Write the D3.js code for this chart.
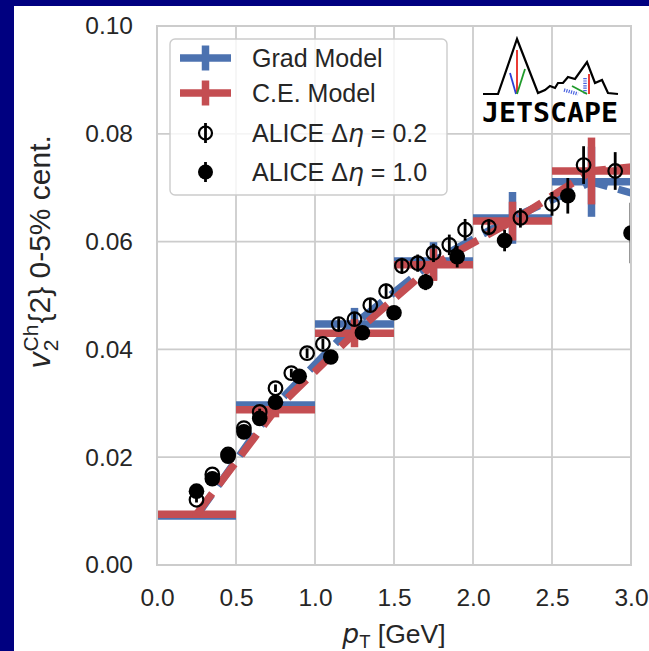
<!DOCTYPE html>
<html>
<head>
<meta charset="utf-8">
<script src="https://cdn.jsdelivr.net/npm/d3@7"></script>
<style>
  body { margin: 0; background: #000080; }
  svg { display: block; }
  text { font-family: "Liberation Sans", Arial, sans-serif; fill: #262626; }
</style>
</head>
<body>
<svg id="chart" width="649" height="651"></svg>
<script>
// Hydro model bins (centre, half-width) and v2 values with uncertainties
const binCenters = [0.25, 0.75, 1.25, 1.75, 2.25, 2.75, 3.25];
const binHalfWidth = 0.25;
const gradV   = [0.0091, 0.0297, 0.0447, 0.0564, 0.0644, 0.0711, 0.0670];
const gradErr = [0.0004, 0.0010, 0.0030, 0.0035, 0.0048, 0.0065, 0.0060];
const ceV     = [0.0094, 0.0288, 0.0430, 0.0557, 0.0638, 0.0731, 0.0746];
const ceErr   = [0.0004, 0.0014, 0.0026, 0.0030, 0.0036, 0.0062, 0.0060];

// ALICE measurements, eta gap 0.2
const alice02Pt  = [0.25, 0.35, 0.45, 0.55, 0.65, 0.75, 0.85, 0.95, 1.05, 1.15, 1.25, 1.35,
                    1.45, 1.55, 1.65, 1.75, 1.85, 1.95, 2.1, 2.3, 2.5, 2.7, 2.9];
const alice02V   = [0.0121, 0.0168, 0.0205, 0.0254, 0.0284, 0.0328, 0.0356, 0.0393, 0.0410,
                    0.0447, 0.0456, 0.0482, 0.0508, 0.0555, 0.0560, 0.0579, 0.0594, 0.0622,
                    0.0627, 0.0644, 0.0670, 0.0742, 0.0731];
const alice02Err = [0.0005, 0.0005, 0.0005, 0.0005, 0.0006, 0.0007, 0.0008, 0.0009, 0.0010,
                    0.0011, 0.0012, 0.0013, 0.0014, 0.0015, 0.0016, 0.0017, 0.0019, 0.0020,
                    0.0015, 0.0018, 0.0022, 0.0035, 0.0035];

// ALICE measurements, eta gap 1.0
const alice10Pt  = [0.25, 0.35, 0.45, 0.55, 0.65, 0.75, 0.9, 1.1, 1.3, 1.5, 1.7, 1.9, 2.2, 2.6, 3.0];
const alice10V   = [0.0137, 0.0160, 0.0202, 0.0247, 0.0272, 0.0302, 0.0350, 0.0386, 0.0431,
                    0.0468, 0.0525, 0.0572, 0.0602, 0.0685, 0.0616];
const alice10Err = [0.0005, 0.0005, 0.0005, 0.0005, 0.0006, 0.0006, 0.0007, 0.0008, 0.0010,
                    0.0012, 0.0015, 0.0020, 0.0020, 0.0033, 0.0056];

const xTicks = [0.0, 0.5, 1.0, 1.5, 2.0, 2.5, 3.0];
const yTicks = [0.00, 0.02, 0.04, 0.06, 0.08, 0.10];

const BLUE = "#4c72b0", RED = "#c44e52", GRID = "#cccccc", INK = "#262626";

const svg = d3.select("#chart");
svg.append("rect").attr("x", 14).attr("y", 6).attr("width", 635).attr("height", 645).attr("fill", "#ffffff");

const x = d3.scaleLinear().domain([0, 3]).range([157, 631]);
const y = d3.scaleLinear().domain([0, 0.1]).range([565, 26]);

// grid
const grid = svg.append("g");
grid.selectAll(".gx").data(xTicks).join("line")
  .attr("x1", d => x(d)).attr("x2", d => x(d)).attr("y1", y(0)).attr("y2", y(0.1))
  .attr("stroke", GRID).attr("stroke-width", 1.8);
grid.selectAll(".gy").data(yTicks).join("line")
  .attr("x1", x(0)).attr("x2", x(3)).attr("y1", d => y(d)).attr("y2", d => y(d))
  .attr("stroke", GRID).attr("stroke-width", 1.8);

// axes (labels only, seaborn whitegrid style)
const xAxis = svg.append("g").attr("transform", `translate(0,${y(0)})`)
  .call(d3.axisBottom(x).tickValues(xTicks).tickFormat(d3.format(".1f")).tickSize(0).tickPadding(24));
const yAxis = svg.append("g").attr("transform", `translate(${x(0)},0)`)
  .call(d3.axisLeft(y).tickValues(yTicks).tickFormat(d3.format(".2f")).tickSize(0).tickPadding(24));
[xAxis, yAxis].forEach(a => {
  a.select(".domain").remove();
  a.selectAll("text").attr("font-size", 24.5).attr("fill", INK)
    .style("font-family", '"Liberation Sans", Arial, sans-serif');
});

// clip for data
svg.append("clipPath").attr("id", "plotclip").append("rect")
  .attr("x", x(0)).attr("y", y(0.1)).attr("width", x(3) - x(0)).attr("height", y(0) - y(0.1));
const plot = svg.append("g").attr("clip-path", "url(#plotclip)");

function drawModel(vals, errs, color) {
  const g = plot.append("g");
  const rows = binCenters.map((c, i) => ({ c, v: vals[i], e: errs[i] }));
  g.selectAll(".h").data(rows).join("line")
    .attr("x1", d => x(d.c - binHalfWidth)).attr("x2", d => x(d.c + binHalfWidth))
    .attr("y1", d => y(d.v)).attr("y2", d => y(d.v))
    .attr("stroke", color).attr("stroke-width", 7.5);
  g.selectAll(".v").data(rows).join("line")
    .attr("x1", d => x(d.c)).attr("x2", d => x(d.c))
    .attr("y1", d => y(d.v - d.e)).attr("y2", d => y(d.v + d.e))
    .attr("stroke", color).attr("stroke-width", 7.5);
  g.append("path").datum(rows)
    .attr("d", d3.line().x(d => x(d.c)).y(d => y(d.v)))
    .attr("fill", "none").attr("stroke", color).attr("stroke-width", 7.5)
    .attr("stroke-dasharray", "26,11");
}
drawModel(gradV, gradErr, BLUE);
drawModel(ceV, ceErr, RED);

function drawData(pts, vals, errs, filled) {
  const g = plot.append("g");
  const rows = pts.map((p, i) => ({ p, v: vals[i], e: errs[i] }));
  g.selectAll("line").data(rows).join("line")
    .attr("x1", d => x(d.p)).attr("x2", d => x(d.p))
    .attr("y1", d => y(d.v - d.e)).attr("y2", d => y(d.v + d.e))
    .attr("stroke", "#000").attr("stroke-width", 2.8);
  g.selectAll("circle").data(rows).join("circle")
    .attr("cx", d => x(d.p)).attr("cy", d => y(d.v))
    .attr("r", filled ? 7.8 : 6.8)
    .attr("fill", filled ? "#000" : "none")
    .attr("stroke", "#000").attr("stroke-width", filled ? 0 : 2.2);
}
drawData(alice02Pt, alice02V, alice02Err, false);
drawData(alice10Pt, alice10V, alice10Err, true);

// frame
svg.append("rect").attr("x", x(0)).attr("y", y(0.1)).attr("width", x(3) - x(0)).attr("height", y(0) - y(0.1))
  .attr("fill", "none").attr("stroke", GRID).attr("stroke-width", 2);

// legend
const legend = svg.append("g");
legend.append("rect").attr("x", 170).attr("y", 39).attr("width", 277).attr("height", 156).attr("rx", 5)
  .attr("fill", "#ffffff").attr("fill-opacity", 0.8).attr("stroke", GRID).attr("stroke-width", 1.4);
const legendRows = [
  { kind: "model", color: BLUE, label: ["Grad Model"] },
  { kind: "model", color: RED, label: ["C.E. Model"] },
  { kind: "open", label: ["ALICE Δ", "η", "=", "0.2"] },
  { kind: "filled", label: ["ALICE Δ", "η", "=", "1.0"] }
];
const rowY = [58, 93, 133, 172];
legendRows.forEach((r, i) => {
  const cy = rowY[i], cx = 205.5;
  if (r.kind === "model") {
    legend.append("line").attr("x1", 180).attr("x2", 231).attr("y1", cy).attr("y2", cy)
      .attr("stroke", r.color).attr("stroke-width", 7.5);
    legend.append("line").attr("x1", cx).attr("x2", cx).attr("y1", cy - 12.5).attr("y2", cy + 12.5)
      .attr("stroke", r.color).attr("stroke-width", 7.5);
  } else {
    legend.append("line").attr("x1", cx).attr("x2", cx).attr("y1", cy - 10).attr("y2", cy + 10)
      .attr("stroke", "#000").attr("stroke-width", 2.8);
    legend.append("circle").attr("cx", cx).attr("cy", cy).attr("r", r.kind === "filled" ? 7.5 : 6.5)
      .attr("fill", r.kind === "filled" ? "#000" : "none").attr("stroke", "#000")
      .attr("stroke-width", r.kind === "filled" ? 0 : 2.2);
  }
  const t = legend.append("text").attr("x", 252).attr("y", cy + 8.8).attr("font-size", 25);
  t.append("tspan").text(r.label[0]);
  if (r.label.length > 1) {
    t.append("tspan").attr("font-style", "italic").attr("font-family", "DejaVu Sans").text(r.label[1]);
    t.append("tspan").attr("dx", 7).text(r.label[2]);
    t.append("tspan").attr("dx", 7).text(r.label[3]);
  }
});

// axis titles
const xl = svg.append("text").attr("x", (x(0) + x(3)) / 2).attr("y", 643)
  .attr("text-anchor", "middle").attr("font-size", 26.5);
xl.append("tspan").attr("font-style", "italic").attr("font-family", "DejaVu Sans").text("p");
xl.append("tspan").attr("font-size", 18.5).attr("dy", 5).text("T");
xl.append("tspan").attr("dy", -5).text(" [GeV]");

const yl = svg.append("text").attr("transform", `translate(50,252) rotate(-90)`)
  .attr("text-anchor", "middle").attr("font-size", 30);
yl.append("tspan").attr("font-style", "italic").attr("font-family", "DejaVu Sans").text("v");
yl.append("tspan").attr("font-size", 21).attr("dy", 7.5).text("2");
yl.append("tspan").attr("font-size", 21).attr("dx", -12).attr("dy", -20).text("Ch");
yl.append("tspan").attr("dy", 12.5).attr("dx", 1).text("{2} 0-5% cent.");

// JETSCAPE logo
const logo = svg.append("g").attr("transform", "translate(482,38)");
const outline = [[1,56],[16,56],[35,1],[56,55],[63,52],[68,48],[73,50],[76,45],[81,45],[86,39],
                 [93,41],[105,24],[113,45],[120,42],[126,55],[136,56]];
logo.append("path").attr("d", d3.line()(outline)).attr("fill", "none")
  .attr("stroke", "#000").attr("stroke-width", 2.2).attr("stroke-linejoin", "miter");
logo.append("line").attr("x1", 35).attr("y1", 12).attr("x2", 35).attr("y2", 55).attr("stroke", "#e8251f").attr("stroke-width", 1.8);
logo.append("line").attr("x1", 28).attr("y1", 35).attr("x2", 34).attr("y2", 56).attr("stroke", "#2c3fd6").attr("stroke-width", 1.8);
logo.append("line").attr("x1", 43).attr("y1", 31).attr("x2", 35).attr("y2", 56).attr("stroke", "#1f9a2a").attr("stroke-width", 1.8);
logo.append("line").attr("x1", 82).attr("y1", 52).attr("x2", 96).attr("y2", 56).attr("stroke", "#4a63e0").attr("stroke-width", 3.5).attr("stroke-dasharray", "1.2,1.2");
logo.append("line").attr("x1", 103).attr("y1", 40).attr("x2", 103).attr("y2", 56).attr("stroke", "#4a63e0").attr("stroke-width", 3.5).attr("stroke-dasharray", "1.2,1.2");
logo.append("line").attr("x1", 90).attr("y1", 48).attr("x2", 105).attr("y2", 56).attr("stroke", "#1f9a2a").attr("stroke-width", 1.8);
logo.append("line").attr("x1", 107).attr("y1", 36).attr("x2", 107).attr("y2", 56).attr("stroke", "#e8251f").attr("stroke-width", 1.8);
logo.append("text").attr("x", 0).attr("y", 84).attr("textLength", 136).attr("lengthAdjust", "spacingAndGlyphs")
  .attr("font-size", 26).attr("font-weight", "bold").style("font-family", '"DejaVu Sans Mono", monospace')
  .style("fill", "#000").text("JETSCAPE");
</script>
</body>
</html>
